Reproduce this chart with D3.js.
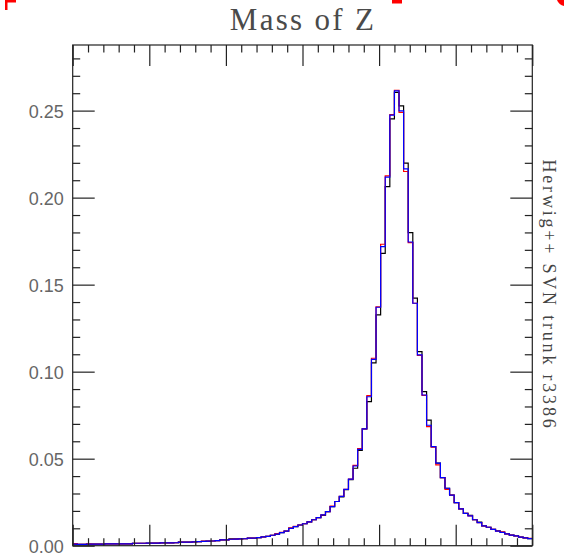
<!DOCTYPE html>
<html>
<head>
<meta charset="utf-8">
<script src="https://cdn.jsdelivr.net/npm/d3@7"></script>
<style>
  body { margin: 0; background: #fff; }
  svg { display: block; }
</style>
</head>
<body>
<div class="chart"></div>
<script>
// mass of Z, 100 bins of 0.3 GeV from 70 to 100 GeV
const massRange = [70, 100];
const binWidth = 0.3;
const xMajor = [70, 75, 80, 85, 90, 95, 100];
const yMajor = [0, 0.05, 0.10, 0.15, 0.20, 0.25];
const yLabels = ["0.00", "0.05", "0.10", "0.15", "0.20", "0.25"];

const blueVals = [
	0.0009, 0.0008, 0.0008, 0.0009, 0.0009, 0.0009, 0.0009, 0.0010, 0.0010, 0.0010,
	0.0010, 0.0011, 0.0011, 0.0014, 0.0014, 0.0014, 0.0015, 0.0015, 0.0015, 0.0016,
	0.0016, 0.0016, 0.0017, 0.0020, 0.0020, 0.0021, 0.0022, 0.0023, 0.0025, 0.0026,
	0.0027, 0.0029, 0.0033, 0.0034, 0.0037, 0.0038, 0.0039, 0.0040, 0.0043, 0.0044,
	0.0046, 0.0051, 0.0054, 0.0060, 0.0067, 0.0075, 0.0084, 0.0099, 0.0110, 0.0119,
	0.0126, 0.0137, 0.0149, 0.0161, 0.0177, 0.0196, 0.0224, 0.0254, 0.0283, 0.0324,
	0.0382, 0.0458, 0.0554, 0.0671, 0.0856, 0.1071, 0.1370, 0.1718, 0.2118, 0.2474,
	0.2613, 0.2498, 0.2165, 0.1745, 0.1393, 0.1096, 0.0866, 0.0692, 0.0569, 0.0474,
	0.0391, 0.0330, 0.0291, 0.0248, 0.0212, 0.0186, 0.0171, 0.0149, 0.0133, 0.0114,
	0.0106, 0.0094, 0.0084, 0.0077, 0.0068, 0.0061, 0.0056, 0.0049, 0.0045, 0.0041
];

const redVals = [
	0.0012, 0.0008, 0.0008, 0.0010, 0.0009, 0.0009, 0.0009, 0.0010, 0.0010, 0.0010,
	0.0010, 0.0011, 0.0011, 0.0013, 0.0013, 0.0013, 0.0014, 0.0015, 0.0015, 0.0016,
	0.0016, 0.0016, 0.0017, 0.0021, 0.0020, 0.0021, 0.0022, 0.0023, 0.0026, 0.0026,
	0.0027, 0.0029, 0.0033, 0.0034, 0.0037, 0.0038, 0.0039, 0.0040, 0.0043, 0.0044,
	0.0046, 0.0051, 0.0054, 0.0060, 0.0070, 0.0077, 0.0084, 0.0102, 0.0111, 0.0119,
	0.0126, 0.0137, 0.0149, 0.0161, 0.0177, 0.0196, 0.0228, 0.0254, 0.0283, 0.0324,
	0.0382, 0.0462, 0.0558, 0.0671, 0.0862, 0.1077, 0.1372, 0.1732, 0.2125, 0.2477,
	0.2617, 0.2490, 0.2150, 0.1741, 0.1393, 0.1094, 0.0864, 0.0684, 0.0566, 0.0464,
	0.0391, 0.0324, 0.0291, 0.0248, 0.0212, 0.0186, 0.0171, 0.0149, 0.0133, 0.0114,
	0.0106, 0.0094, 0.0084, 0.0080, 0.0068, 0.0061, 0.0056, 0.0049, 0.0045, 0.0042
];

const blackVals = [
	0.0009, 0.0008, 0.0008, 0.0009, 0.0009, 0.0009, 0.0009, 0.0010, 0.0010, 0.0010,
	0.0010, 0.0011, 0.0011, 0.0014, 0.0014, 0.0014, 0.0015, 0.0015, 0.0015, 0.0016,
	0.0016, 0.0016, 0.0017, 0.0020, 0.0020, 0.0021, 0.0022, 0.0023, 0.0025, 0.0026,
	0.0027, 0.0029, 0.0034, 0.0034, 0.0039, 0.0039, 0.0039, 0.0040, 0.0044, 0.0044,
	0.0046, 0.0051, 0.0054, 0.0060, 0.0067, 0.0075, 0.0084, 0.0099, 0.0110, 0.0119,
	0.0126, 0.0137, 0.0149, 0.0161, 0.0174, 0.0196, 0.0224, 0.0254, 0.0280, 0.0322,
	0.0380, 0.0445, 0.0548, 0.0671, 0.0828, 0.1051, 0.1326, 0.1680, 0.2063, 0.2452,
	0.2605, 0.2527, 0.2198, 0.1799, 0.1422, 0.1115, 0.0885, 0.0722, 0.0569, 0.0474,
	0.0391, 0.0330, 0.0291, 0.0248, 0.0212, 0.0186, 0.0175, 0.0149, 0.0136, 0.0114,
	0.0106, 0.0094, 0.0086, 0.0077, 0.0068, 0.0061, 0.0056, 0.0049, 0.0045, 0.0041
];

const title = "Mass of Z";
const sideLabel = "Herwig++ SVN trunk r3386";

(function () {

	const widthSVG = 564,
		heightSVG = 554;

	const left = 72.7, right = 532.3, top = 45, bottom = 545.7;

	const svg = d3.select(".chart").append("svg")
		.attr("width", widthSVG)
		.attr("height", heightSVG);

	const x = d3.scaleLinear().domain(massRange).range([left, right]);
	const y = d3.scaleLinear().domain([0, 0.2877]).range([bottom, top]);

	const xMinor = d3.range(massRange[0], massRange[1] + 0.5, 1).filter(function (d) { return d % 5 !== 0; });
	const yMinor = d3.range(0, 0.285, 0.01).filter(function (d) { return Math.round(d * 100) % 5 !== 0; });

	// histograms: black, red, blue on top
	drawHist(svg, blackVals, "#000", x, y);
	drawHist(svg, redVals, "#ff0000", x, y);
	drawHist(svg, blueVals, "#0000ff", x, y);

	// frame
	svg.append("rect")
		.attr("x", left).attr("y", top)
		.attr("width", right - left).attr("height", bottom - top)
		.attr("fill", "none")
		.attr("stroke", "#222")
		.attr("stroke-width", 1.2);

	addAxis(svg, d3.axisLeft(y).tickValues(yMajor).tickSize(-22).tickPadding(9)
		.tickFormat(function (d, i) { return yLabels[i]; }), left, 0);
	addAxis(svg, d3.axisLeft(y).tickValues(yMinor).tickSize(-7.5).tickFormat(""), left, 0);
	addAxis(svg, d3.axisRight(y).tickValues(yMajor).tickSize(-22).tickFormat(""), right, 0);
	addAxis(svg, d3.axisRight(y).tickValues(yMinor).tickSize(-7.5).tickFormat(""), right, 0);
	addAxis(svg, d3.axisBottom(x).tickValues(xMajor).tickSize(-21).tickFormat(""), 0, bottom);
	addAxis(svg, d3.axisBottom(x).tickValues(xMinor).tickSize(-7.5).tickFormat(""), 0, bottom);
	addAxis(svg, d3.axisTop(x).tickValues(xMajor).tickSize(-21).tickFormat(""), 0, top);
	addAxis(svg, d3.axisTop(x).tickValues(xMinor).tickSize(-7.5).tickFormat(""), 0, top);

	svg.append("text")
		.attr("x", 303)
		.attr("y", 29.5)
		.attr("text-anchor", "middle")
		.attr("font-family", "Liberation Serif, serif")
		.attr("font-size", 31)
		.attr("letter-spacing", 2.3)
		.attr("fill", "#4a4a4a")
		.text(title);

	svg.append("text")
		.attr("transform", "translate(543,295) rotate(90)")
		.attr("text-anchor", "middle")
		.attr("font-family", "Liberation Serif, serif")
		.attr("font-size", 18)
		.attr("letter-spacing", 2.8)
		.attr("fill", "#444")
		.text(sideLabel);

	// red fragments cut off at the top edge
	const red = svg.append("g").attr("fill", "#ff0000");
	red.append("rect").attr("x", 5).attr("y", 0).attr("width", 11).attr("height", 2.5);
	red.append("rect").attr("x", 5).attr("y", 0).attr("width", 2.5).attr("height", 10);
	red.append("rect").attr("x", 392).attr("y", 0).attr("width", 10).attr("height", 3.5);
	red.append("path").attr("d", "M557,0 L564,0 L564,6 Q559,5 557,0 Z");
}());

function drawHist(parent, vals, color, x, y) {

	let pts = [];
	vals.forEach(function (v, i) {
		const lo = massRange[0] + i * binWidth;
		pts.push({"m": lo, "v": v});
		pts.push({"m": lo + binWidth, "v": v});
	});

	const line = d3.line()
		.x(function (d) { return x(d.m); })
		.y(function (d) { return y(d.v); });

	parent.append("path")
		.datum(pts)
		.attr("fill", "none")
		.attr("stroke", color)
		.attr("stroke-width", 1.2)
		.attr("d", line);
}

function addAxis(parent, axis, tx, ty) {

	const g = parent.append("g")
		.attr("transform", "translate(" + tx + "," + ty + ")")
		.call(axis);
	g.select(".domain").remove();
	g.selectAll(".tick line").attr("stroke", "#222").attr("stroke-width", 1.2);
	g.selectAll(".tick text")
		.attr("font-family", "Liberation Sans, sans-serif")
		.attr("font-size", 18)
		.attr("fill", "#666")
		.attr("dy", "0.36em");
}
</script>
</body>
</html>
